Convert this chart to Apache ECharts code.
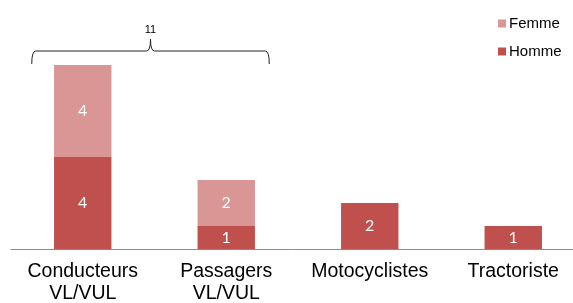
<!DOCTYPE html>
<html>
<head>
<meta charset="utf-8">
<script src="https://cdn.jsdelivr.net/npm/echarts@6/dist/echarts.min.js"></script>
<style>
  html, body { margin: 0; padding: 0; background: #fff; }
  #chart { width: 573px; height: 303px; }
</style>
</head>
<body>
<div id="chart"></div>
<script>
// categories and counts
const categories = ['Conducteurs\nVL/VUL', 'Passagers\nVL/VUL', 'Motocyclistes', 'Tractoriste']
const homme = [4, 1, 2, 1]
const femme = [4, 2, null, null]
// the brace groups the first two categories
const braceGroup = [0, 1]

const FONT = 'Liberation Sans, Arial, sans-serif'

const chart = echarts.init(document.getElementById('chart'))

const barLabel = {
  show: true,
  position: 'inside',
  color: '#fff',
  fontFamily: 'Lato, Liberation Sans, sans-serif',
  fontSize: 16
}

chart.setOption({
  animation: false,
  grid: { left: 11, right: -12, top: 19, bottom: 54, outerBoundsMode: 'none', containLabel: false },
  legend: {
    orient: 'vertical',
    left: 493,
    top: 11,
    itemWidth: 8,
    itemHeight: 8,
    itemGap: 13,
    icon: 'rect',
    data: ['Femme', 'Homme'],
    textStyle: { fontFamily: FONT, fontSize: 15, color: '#000', padding: [0, 0, 0, -2] }
  },
  xAxis: {
    type: 'category',
    data: categories,
    axisLine: { lineStyle: { color: '#8c8c8c', width: 1 } },
    axisTick: { length: 5, lineStyle: { color: '#8c8c8c' } },
    axisLabel: {
      color: '#000',
      fontFamily: FONT,
      fontSize: 19.5,
      lineHeight: 22,
      margin: 12,
      interval: 0
    }
  },
  yAxis: {
    type: 'value',
    min: 0,
    max: 10,
    show: false,
    splitLine: { show: false }
  },
  series: [
    {
      name: 'Homme',
      type: 'bar',
      stack: 'total',
      barWidth: '40%',
      data: homme,
      itemStyle: { color: '#C0504D' },
      label: barLabel
    },
    {
      name: 'Femme',
      type: 'bar',
      stack: 'total',
      data: femme,
      itemStyle: { color: '#D99694' },
      label: barLabel
    }
  ]
})

// brace + total over the grouped categories
function drawBrace() {
  const total = braceGroup.reduce((s, i) => s + (homme[i] || 0) + (femme[i] || 0), 0)
  const maxStack = Math.max(...braceGroup.map(i => (homme[i] || 0) + (femme[i] || 0)))
  const x0 = chart.convertToPixel({ xAxisIndex: 0 }, braceGroup[0]) - 51
  const x1 = chart.convertToPixel({ xAxisIndex: 0 }, braceGroup[braceGroup.length - 1]) + 43
  const yEnd = chart.convertToPixel({ yAxisIndex: 0 }, maxStack) - 1
  const yLine = yEnd - 13
  const mid = (x0 + x1) / 2
  const r = 4
  const stroke = { stroke: '#222', lineWidth: 1, fill: null }
  const curve = (a, c, b) => ({
    type: 'bezierCurve',
    shape: { x1: a[0], y1: a[1], cpx1: c[0], cpy1: c[1], x2: b[0], y2: b[1] },
    style: stroke
  })
  const line = (a, b) => ({
    type: 'line',
    shape: { x1: a[0], y1: a[1], x2: b[0], y2: b[1] },
    style: stroke
  })
  chart.setOption({
    graphic: [
      curve([x0, yEnd], [x0, yLine], [x0 + r, yLine]),
      line([x0 + r, yLine], [mid - r, yLine]),
      curve([mid - r, yLine], [mid, yLine], [mid, yLine - 12]),
      curve([mid, yLine - 12], [mid, yLine], [mid + r, yLine]),
      line([mid + r, yLine], [x1 - r, yLine]),
      curve([x1 - r, yLine], [x1, yLine], [x1, yEnd]),
      {
        type: 'text',
        x: mid,
        y: yLine - 21,
        style: {
          text: String(total),
          fill: '#000',
          font: '11px ' + FONT,
          textAlign: 'center',
          textVerticalAlign: 'middle'
        }
      }
    ]
  })
}
drawBrace()
</script>
</body>
</html>
